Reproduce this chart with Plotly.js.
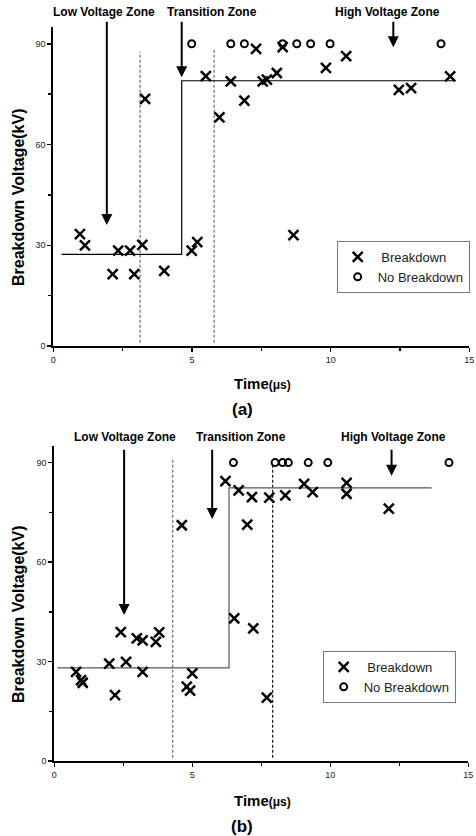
<!DOCTYPE html>
<html>
<head>
<meta charset="utf-8">
<script src="https://cdn.plot.ly/plotly-3.0.1.min.js"></script>
<style>html,body{margin:0;padding:0;background:#fff}#chart{width:476px;height:836px}</style>
</head>
<body>
<div id="chart"></div>
<script>
// ---------- Panel (a) data ----------
const aBreakX = [0.96, 1.14, 2.14, 2.34, 2.77, 2.92, 3.21, 3.31, 4.0, 4.99, 5.19, 5.5, 5.99, 6.40, 6.89, 7.31, 7.55, 7.70, 8.06, 8.27, 8.66, 9.83, 10.56, 12.46, 12.90, 14.31];
const aBreakY = [33.3, 30.0, 21.4, 28.4, 28.4, 21.4, 30.1, 73.6, 22.4, 28.4, 30.9, 80.4, 68.1, 78.8, 73.1, 88.5, 78.8, 79.3, 81.3, 89.0, 33.0, 82.8, 86.3, 76.3, 76.8, 80.3];
const aNoBreakX = [4.99, 6.40, 6.89, 8.27, 8.78, 9.28, 9.98, 13.98];
const aNoBreakY = [90, 90, 90, 90, 90, 90, 90, 90];
const aStepX = [0.3, 4.63, 14.49];
const aStepY = [27.3, 79.0, 79.0];
const aBoundX = [3.13, 5.80];
const aBoundTop = [87.6, 88.6];
const aArrowX = [1.93, 4.63, 12.26];
const aArrowTip = [36, 80, 89];
const aArrowTail = 97;

// ---------- Panel (b) data ----------
const bBreakX = [0.79, 0.97, 1.03, 1.99, 2.20, 2.41, 2.60, 2.99, 3.20, 3.20, 3.68, 3.80, 4.62, 4.80, 4.92, 5.00, 6.20, 6.52, 6.68, 6.99, 7.16, 7.21, 7.70, 7.79, 8.37, 9.05, 9.36, 10.59, 10.59, 12.12];
const bBreakY = [26.9, 24.4, 23.6, 29.4, 19.9, 38.9, 29.9, 37.0, 36.4, 26.9, 35.9, 38.8, 71.1, 22.4, 21.2, 26.4, 84.4, 43.0, 81.6, 71.3, 79.6, 40.0, 19.1, 79.4, 80.1, 83.6, 81.1, 83.9, 80.6, 76.1];
const bNoBreakX = [6.49, 8.00, 8.27, 8.48, 9.20, 9.91, 14.30];
const bNoBreakY = [90, 90, 90, 90, 90, 90, 90];
const bStepX = [0.11, 6.33, 13.67];
const bStepY = [28.1, 82.4, 82.4];
const bBoundX = [4.29, 7.91];
const bBoundTop = [91, 89];
const bArrowX = [2.53, 5.72, 12.22];
const bArrowTip = [44, 73, 86];
const bArrowTail = 94.3;

// ---------- Text ----------
const zoneLabels = ["Low Voltage Zone", "Transition Zone", "High Voltage Zone"];
const seriesNames = ["\u00a0Breakdown", "No Breakdown"];
const xTickVals = [0, 5, 10, 15];
const yTickVals = [0, 30, 60, 90];
const yTitle = "Breakdown Voltage(kV)";
const xTitle = "Time<span style='font-size:12px'>(\u03bcs)</span>";
const panelLabels = ["(a)", "(b)"];

const W = 476, H = 836;
const px = v => v / W;
const py = v => 1 - v / H;

function panelTraces(sfx, legendId, bx, by, nx, ny, sx, sy, dX, dTop, stepColor, dashColors) {
  const xa = 'x' + sfx, ya = 'y' + sfx;
  const tr = [];
  dX.forEach((xv, i) => {
    tr.push({x: [xv, xv], y: [1, dTop[i]], xaxis: xa, yaxis: ya, mode: 'lines', showlegend: false, hoverinfo: 'skip',
      line: {color: dashColors[i], width: 1.3, dash: '3px,2px'}});
  });
  tr.push({x: sx, y: sy, xaxis: xa, yaxis: ya, mode: 'lines', line: {shape: 'hv', color: stepColor, width: 1.2}, showlegend: false, hoverinfo: 'skip'});
  tr.push({x: bx, y: by, xaxis: xa, yaxis: ya, mode: 'markers', name: seriesNames[0], legend: legendId,
    marker: {symbol: 'x-thin-open', size: 10, color: '#000', line: {color: '#000', width: 2.5}}, cliponaxis: false});
  tr.push({x: nx, y: ny, xaxis: xa, yaxis: ya, mode: 'markers', name: seriesNames[1], legend: legendId,
    marker: {symbol: 'circle-open', size: 7, color: '#000', line: {color: '#000', width: 2}}, cliponaxis: false});
  return tr;
}

const traces = [
  ...panelTraces('', 'legend', aBreakX, aBreakY, aNoBreakX, aNoBreakY, aStepX, aStepY, aBoundX, aBoundTop, '#000', ['#777', '#777']),
  ...panelTraces('2', 'legend2', bBreakX, bBreakY, bNoBreakX, bNoBreakY, bStepX, bStepY, bBoundX, bBoundTop, '#555', ['#777', '#222'])
];

function arrows(xref, yref, xs, tips, tail) {
  return xs.map((xv, i) => ({x: xv, y: tips[i], ax: xv, ay: tail, xref: xref, yref: yref, axref: xref, ayref: yref,
    text: '', showarrow: true, arrowhead: 2, arrowsize: 1.1, arrowwidth: 2, arrowcolor: '#000'}));
}

const font = 'Arial, "Liberation Sans", sans-serif';
function label(text, x, y, size, extra) {
  return Object.assign({text: text, x: px(x), y: py(y), xref: 'paper', yref: 'paper', showarrow: false,
    xanchor: 'center', yanchor: 'middle', font: {family: font, size: size, color: '#000', weight: 'bold'}}, extra || {});
}

const annotations = [
  ...arrows('x', 'y', aArrowX, aArrowTip, aArrowTail),
  ...arrows('x2', 'y2', bArrowX, bArrowTip, bArrowTail),
  label('<b>' + zoneLabels[0] + '</b>', 104, 12, 12),
  label('<b>' + zoneLabels[1] + '</b>', 212, 12, 12),
  label('<b>' + zoneLabels[2] + '</b>', 387, 12, 12),
  label('<b>' + zoneLabels[0] + '</b>', 125, 437, 12),
  label('<b>' + zoneLabels[1] + '</b>', 241, 437, 12),
  label('<b>' + zoneLabels[2] + '</b>', 393, 437, 12),
  label('<b>' + yTitle + '</b>', 18, 197, 16, {textangle: -90}),
  label('<b>' + yTitle + '</b>', 18, 614, 16, {textangle: -90}),
  label('<b>' + xTitle + '</b>', 262, 384, 15),
  label('<b>' + xTitle + '</b>', 262, 800, 15),
  label('<b>' + panelLabels[0] + '</b>', 242, 410, 17),
  label('<b>' + panelLabels[1] + '</b>', 242, 826, 17)
];

function xaxis(d0, d1, anchor) {
  return {domain: [px(d0), px(d1)], range: [0, 15], anchor: anchor, showline: true, linewidth: 2, linecolor: '#000',
    ticks: 'outside', ticklen: 4, tickwidth: 1.5, tickcolor: '#000', tickvals: xTickVals,
    minor: {dtick: 2.5, tick0: 0, ticks: 'outside', ticklen: 3, tickwidth: 1.5, tickcolor: '#000'},
    showgrid: false, zeroline: false, tickfont: {family: font, size: 9, color: '#222'}, fixedrange: true};
}
function yaxis(top, bottom, anchor) {
  return {domain: [py(bottom), py(top)], range: [0, 95], anchor: anchor, showline: true, linewidth: 2, linecolor: '#000',
    ticks: 'outside', ticklen: 4, tickwidth: 1.5, tickcolor: '#000', tickvals: yTickVals,
    minor: {dtick: 15, tick0: 0, ticks: 'outside', ticklen: 3, tickwidth: 1.5, tickcolor: '#000'},
    showgrid: false, zeroline: false, tickfont: {family: font, size: 9, color: '#222'}, fixedrange: true};
}
function legend(x, y) {
  return {x: px(x), y: py(y), xanchor: 'left', yanchor: 'top', bgcolor: '#fff', bordercolor: '#777', borderwidth: 1,
    font: {family: font, size: 13, color: '#222'}, itemwidth: 30, tracegroupgap: 0};
}

const layout = {
  width: W, height: H, margin: {l: 0, r: 0, t: 0, b: 0}, paper_bgcolor: '#fff', plot_bgcolor: '#fff',
  font: {family: font},
  xaxis: xaxis(53.3, 469.3, 'y'),
  yaxis: yaxis(27, 346, 'x'),
  xaxis2: xaxis(54.3, 468.3, 'y2'),
  yaxis2: yaxis(446, 761, 'x2'),
  legend: legend(336.7, 241),
  legend2: legend(322.7, 651),
  annotations: annotations
};

Plotly.newPlot('chart', traces, layout, {staticPlot: true, displayModeBar: false});
</script>
</body>
</html>
